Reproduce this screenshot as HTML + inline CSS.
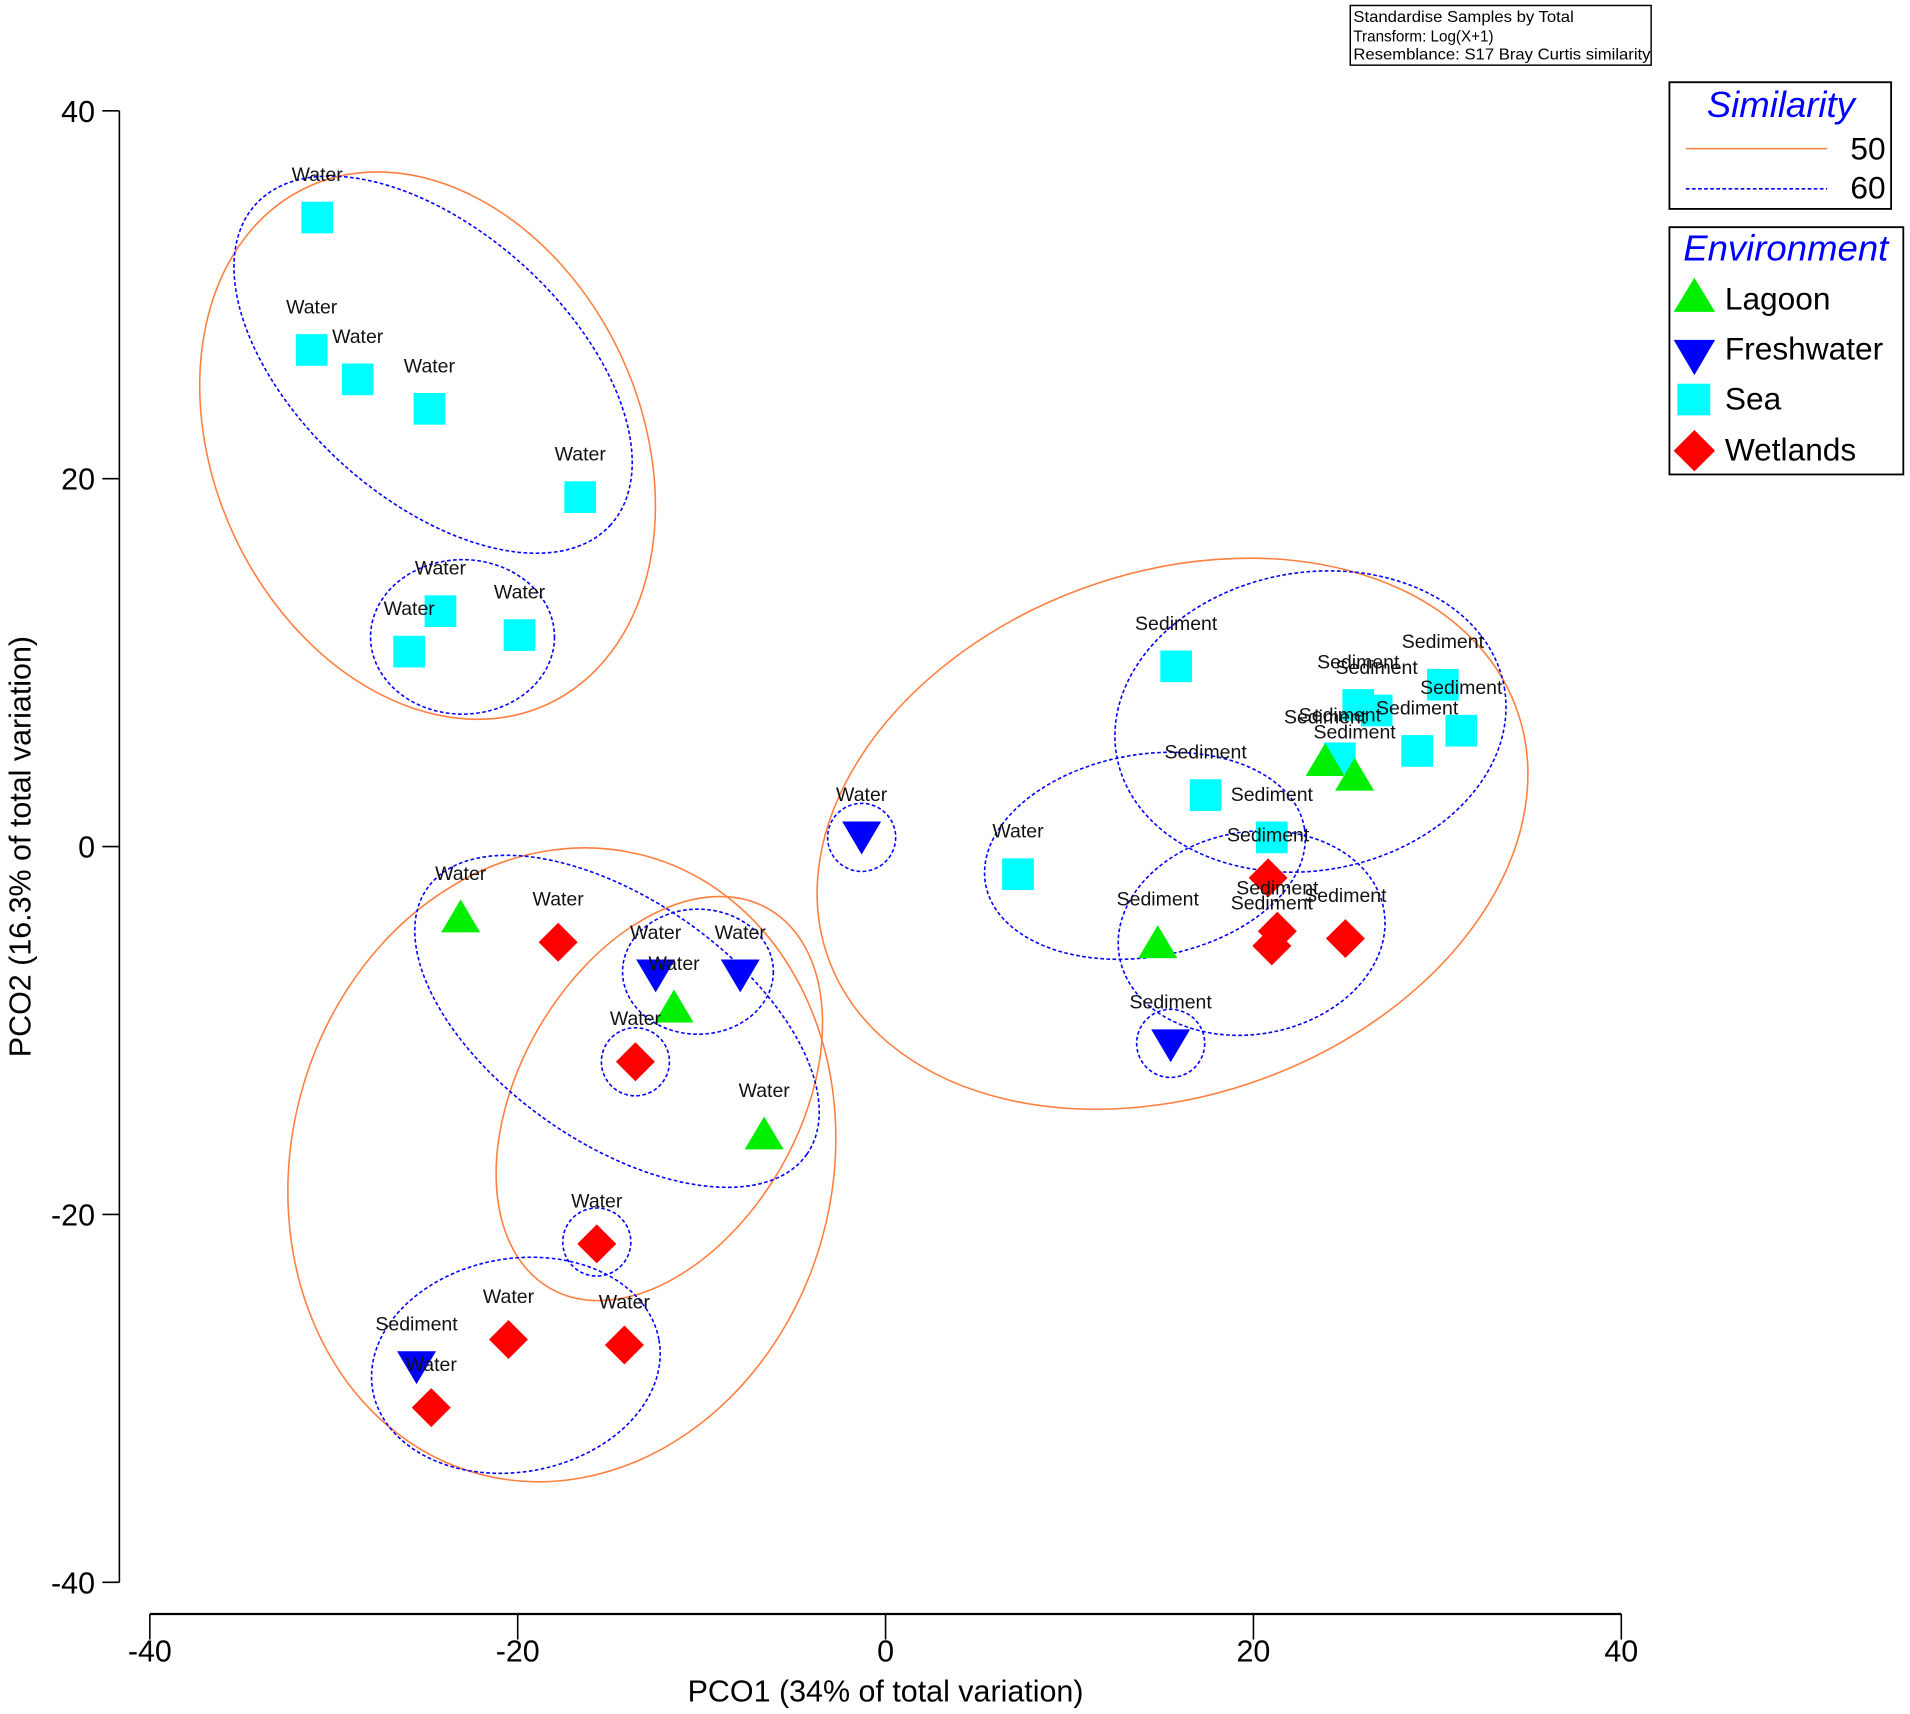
<!DOCTYPE html>
<html><head><meta charset="utf-8"><style>
html,body{margin:0;padding:0;background:#fff;}
svg{display:block;font-family:"Liberation Sans",Arial,sans-serif;}
</style></head><body>
<svg id="chart" width="1910" height="1714" viewBox="0 0 1568 1407.1" preserveAspectRatio="none" xmlns="http://www.w3.org/2000/svg">
<g id="ellipses"></g>
<g id="axes"></g>
<g id="points"></g>
<g id="legend">
  <g>
    <rect x="1108.5" y="4.5" width="247" height="49" fill="#fff" stroke="#000" stroke-width="1.2"/>
    <text x="1111" y="18" font-size="12.5" textLength="181" lengthAdjust="spacingAndGlyphs">Standardise Samples by Total</text>
    <text x="1111" y="34" font-size="12.5">Transform: Log(X+1)</text>
    <text x="1111" y="49" font-size="12.5" textLength="244" lengthAdjust="spacingAndGlyphs">Resemblance: S17 Bray Curtis similarity</text>
  </g>
  <g>
    <rect x="1370.5" y="67.5" width="182" height="104" fill="#fff" stroke="#000" stroke-width="1.5"/>
    <text x="1462" y="96" font-size="30" font-style="italic" fill="#0000ff" text-anchor="middle">Similarity</text>
    <line x1="1384" y1="122" x2="1500" y2="122" stroke="#ff7f3f" stroke-width="1.3"/>
    <text x="1548" y="131" font-size="26" text-anchor="end">50</text>
    <line x1="1384" y1="155" x2="1500" y2="155" stroke="#0000ff" stroke-width="1.3" stroke-dasharray="3,2"/>
    <text x="1548" y="163" font-size="26" text-anchor="end">60</text>
  </g>
  <g>
    <rect x="1370.5" y="186.5" width="192" height="203" fill="#fff" stroke="#000" stroke-width="1.5"/>
    <text x="1466" y="214" font-size="30" font-style="italic" fill="#0000ff" text-anchor="middle">Environment</text>
    <polygon points="1374,256 1391,228 1408,256" fill="#00ee00"/>
    <text x="1416" y="254" font-size="26">Lagoon</text>
    <polygon points="1374,279 1408,279 1391,308" fill="#0000ff"/>
    <text x="1416" y="295" font-size="26">Freshwater</text>
    <rect x="1377" y="315" width="27" height="26" fill="#00ffff"/>
    <text x="1416" y="336" font-size="26">Sea</text>
    <polygon points="1391,353 1408,370 1391,387 1374,370" fill="#ff0000"/>
    <text x="1416" y="378" font-size="26">Wetlands</text>
  </g>
</g>
</svg>
<script>
// Data (PCO scores)
const seaX = [-30.9,-31.2,-28.7,-24.8,-16.6,-24.2,-25.9,-19.9,15.8,17.4,21.0,7.2,30.3,25.7,26.7,28.9,31.3,24.7];
const seaY = [34.2,27.0,25.4,23.8,19.0,12.8,10.6,11.5,9.8,2.8,0.5,-1.5,8.8,7.7,7.4,5.2,6.3,4.8];
const seaLab = ["Water","Water","Water","Water","Water","Water","Water","Water","Sediment","Sediment","Sediment","Water","Sediment","Sediment","Sediment","Sediment","Sediment","Sediment"];
const lagX = [-23.1,-11.5,-6.6,14.8,23.9,25.5];
const lagY = [-3.8,-8.7,-15.6,-5.2,4.7,3.9];
const lagLab = ["Water","Water","Water","Sediment","Sediment","Sediment"];
const freX = [-1.3,-12.5,-7.9,15.5,-25.5];
const freY = [0.5,-7.0,-7.0,-10.8,-28.3];
const freLab = ["Water","Water","Water","Sediment","Sediment"];
const wetX = [-17.8,-13.6,-15.7,-20.5,-14.2,-24.7,20.8,21.3,21.0,25.0];
const wetY = [-5.2,-11.7,-21.6,-26.8,-27.1,-30.5,-1.7,-4.6,-5.4,-5.0];
const wetLab = ["Water","Water","Water","Water","Water","Water","Sediment","Sediment","Sediment","Sediment"];
const xTicks = [-40,-20,0,20,40];
const yTicks = [40,20,0,-20,-40];
// similarity ellipses: center x, center y, semi-axes (data units), rotation (deg), level
const ellCX = [-24.9,-24.6,-23.0,-17.6,-12.3,-14.6,-10.2,-13.6,-15.7,-1.3,15.5,-20.1,15.6,23.1,14.1,19.9];
const ellCY = [21.8,26.2,11.4,-17.3,-13.7,-9.5,-6.8,-11.7,-21.5,0.5,-10.7,-28.2,0.7,6.8,-0.5,-4.7];
const ellA  = [15.5,13.0,5.0,14.7,11.9,12.6,4.1,1.85,1.85,1.85,1.85,7.9,19.9,10.7,8.8,7.3];
const ellB  = [11.6,7.3,4.2,17.4,7.6,6.6,3.4,1.85,1.85,1.85,1.85,5.8,14.2,8.1,5.5,5.5];
const ellRot= [65,42,0,15,-60,35,0,0,0,0,0,-10,-20,-10,-10,-10];
const ellLvl= [50,60,60,50,50,60,60,60,60,60,60,60,50,60,60,60];

const NS="http://www.w3.org/2000/svg";
const X0=727, Y0=695, K=15.1;
const sx=v=>X0+v*K, sy=v=>Y0-v*K;
function mk(tag,attrs,parent){const e=document.createElementNS(NS,tag);for(const k in attrs)e.setAttribute(k,attrs[k]);parent.appendChild(e);return e;}

const gE=document.getElementById('ellipses');
for(let i=0;i<ellCX.length;i++){
  const cx=sx(ellCX[i]), cy=sy(ellCY[i]);
  const e=mk('ellipse',{cx:cx,cy:cy,rx:ellA[i]*K,ry:ellB[i]*K,transform:`rotate(${ellRot[i]} ${cx} ${cy})`,fill:'none',
    stroke:ellLvl[i]===50?'#ff7f3f':'#0000ff','stroke-width':1.3,'stroke-dasharray':ellLvl[i]===50?'none':'3,2'},gE);
  
  
}

const gA=document.getElementById('axes');
mk('line',{x1:98,y1:sy(40),x2:98,y2:sy(-40),stroke:'#000','stroke-width':1.3},gA);
mk('line',{x1:sx(-40),y1:1325,x2:sx(40),y2:1325,stroke:'#000','stroke-width':1.8},gA);
yTicks.forEach(t=>{
  mk('line',{x1:84,y1:sy(t),x2:98,y2:sy(t),stroke:'#000','stroke-width':1.3},gA);
  const tx=mk('text',{x:78,y:sy(t)+9,'font-size':25,'text-anchor':'end'},gA);tx.textContent=t;
  
  
});
xTicks.forEach(t=>{
  mk('line',{x1:sx(t),y1:1325,x2:sx(t),y2:1346,stroke:'#000','stroke-width':1.3},gA);
  const tx=mk('text',{x:sx(t),y:1364,'font-size':25,'text-anchor':'middle'},gA);tx.textContent=t;
  
  
});
const xt=mk('text',{x:727,y:1397,'font-size':25,'text-anchor':'middle'},gA);xt.textContent='PCO1 (34% of total variation)';


const yt=mk('text',{x:0,y:0,'font-size':25,'text-anchor':'middle',transform:'translate(25 695) rotate(-90)'},gA);yt.textContent='PCO2 (16.3% of total variation)';



const gP=document.getElementById('points');
const gL=mk('g',{},gP);
function label(x,y,t){const tx=mk('text',{x:x,y:y-24,'font-size':16,'text-anchor':'middle',fill:'#111'},gL);tx.textContent=t;
  
  }
seaX.forEach((v,i)=>{const x=sx(v),y=sy(seaY[i]);
  const r=mk('rect',{x:x-13,y:y-13,width:26,height:26,fill:'#00ffff'},gP);
  
  
  label(x,y-6,seaLab[i]);});
lagX.forEach((v,i)=>{const x=sx(v),y=sy(lagY[i]);
  const p=mk('polygon',{points:`${x-16},${y+13} ${x},${y-14} ${x+16},${y+13}`,fill:'#00ee00'},gP);
  
  
  label(x,y-6,lagLab[i]);});
freX.forEach((v,i)=>{const x=sx(v),y=sy(freY[i]);
  const p=mk('polygon',{points:`${x-16},${y-13} ${x+16},${y-13} ${x},${y+14}`,fill:'#0000ff'},gP);
  
  
  label(x,y-6,freLab[i]);});
wetX.forEach((v,i)=>{const x=sx(v),y=sy(wetY[i]);
  const p=mk('polygon',{points:`${x},${y-16} ${x+16},${y} ${x},${y+16} ${x-16},${y}`,fill:'#ff0000'},gP);
  
  
  label(x,y-6,wetLab[i]);});
gP.appendChild(gL);
</script>
</body></html>
